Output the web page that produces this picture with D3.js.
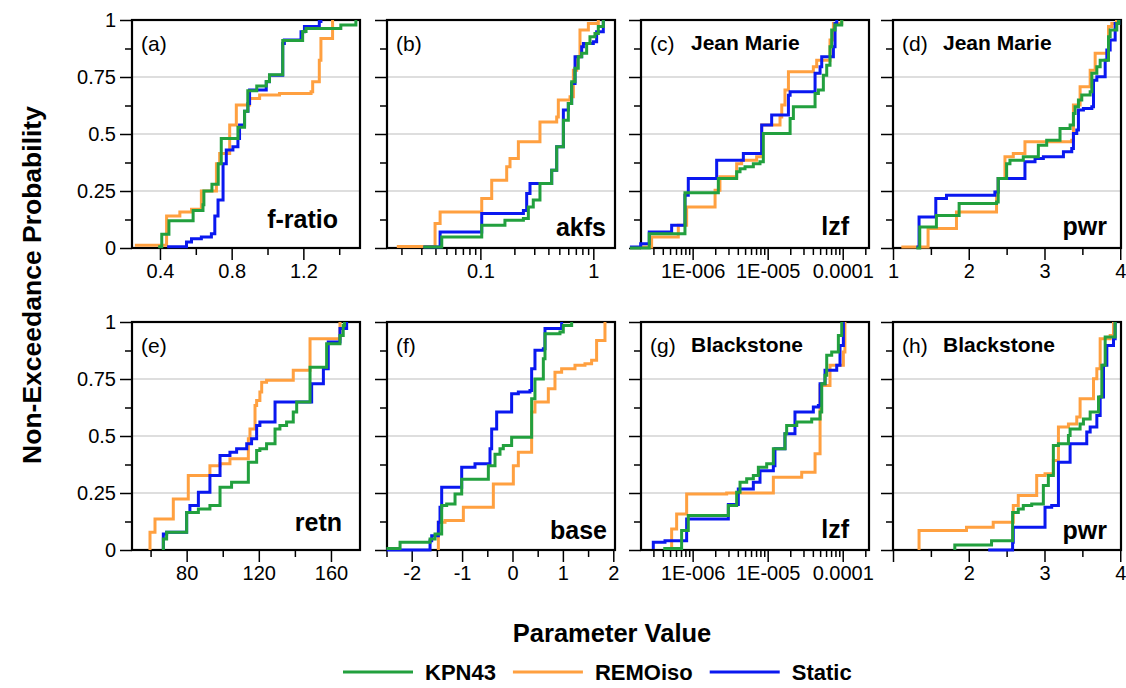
<!DOCTYPE html>
<html>
<head>
<meta charset="utf-8">
<script src="https://cdnjs.cloudflare.com/ajax/libs/d3/7.8.5/d3.min.js"></script>
<style>
  body { margin: 0; background: #fff; }
  svg { font-family: "Liberation Sans", Arial, sans-serif; }
</style>
</head>
<body>
<div id="chart"></div>
<script>
// ---- data: step CDF corner points [parameter value, non-exceedance probability] ----

// (a) f-ratio
const fratioKPN43 = [[0.39,0.005],[0.41,0.06],[0.45,0.12],[0.585,0.165],[0.64,0.19],[0.645,0.25],[0.69,0.28],[0.725,0.37],[0.742,0.48],[0.835,0.53],[0.872,0.6],[0.89,0.69],[0.94,0.71],[0.993,0.73],[1.011,0.76],[1.085,0.91],[1.196,0.95],[1.215,0.963],[1.409,0.978],[1.493,1]];
const fratioREMOiso = [[0.26,0.012],[0.437,0.14],[0.511,0.158],[0.576,0.17],[0.631,0.25],[0.715,0.37],[0.733,0.414],[0.789,0.54],[0.826,0.627],[0.9,0.656],[0.956,0.671],[1.067,0.678],[1.243,0.685],[1.252,0.729],[1.289,0.824],[1.298,0.919],[1.363,1]];
const fratioStatic = [[0.44,0.005],[0.548,0.026],[0.576,0.041],[0.631,0.048],[0.687,0.063],[0.706,0.14],[0.724,0.21],[0.752,0.37],[0.77,0.43],[0.807,0.444],[0.835,0.48],[0.844,0.54],[0.872,0.6],[0.891,0.634],[0.9,0.693],[0.993,0.729],[1.011,0.758],[1.085,0.897],[1.094,0.912],[1.187,0.949],[1.206,0.971],[1.289,0.993],[1.298,1]];

// (b) akfs
const akfsKPN43 = [[0.0313,0.004],[0.0455,0.048],[0.1028,0.1],[0.165,0.122],[0.2404,0.129],[0.266,0.18],[0.294,0.21],[0.337,0.283],[0.428,0.341],[0.474,0.444],[0.543,0.56],[0.601,0.634],[0.643,0.729],[0.689,0.788],[0.736,0.839],[0.789,0.854],[0.873,0.897],[0.934,0.927],[1.034,0.941],[1.107,0.971],[1.226,1]];
const akfsREMOiso = [[0.0182,0.007],[0.0397,0.107],[0.044,0.158],[0.1028,0.217],[0.126,0.297],[0.171,0.356],[0.183,0.392],[0.217,0.466],[0.337,0.553],[0.474,0.575],[0.49,0.649],[0.622,0.663],[0.666,0.78],[0.713,0.839],[0.762,0.956],[0.904,0.985],[1.107,1]];
const akfsStatic = [[0.0313,0.004],[0.044,0.07],[0.1028,0.151],[0.2404,0.165],[0.257,0.239],[0.275,0.283],[0.428,0.341],[0.474,0.444],[0.543,0.605],[0.601,0.634],[0.643,0.722],[0.689,0.839],[0.789,0.883],[0.817,0.897],[1.0,0.905],[1.07,0.949],[1.226,1]];

// (c) lzf, Jean Marie
const lzfJMKPN43 = [[1.46e-7,0],[2.64e-7,0.063],[7.9e-7,0.242],[2.2e-6,0.305],[3.86e-6,0.334],[4.28e-6,0.348],[4.99e-6,0.356],[6.44e-6,0.37],[7.9e-6,0.378],[8.75e-6,0.502],[1.99e-5,0.568],[2.2e-5,0.619],[4.28e-5,0.678],[4.74e-5,0.693],[5.52e-5,0.758],[6.12e-5,0.802],[6.77e-5,0.883],[7.13e-5,0.956],[7.9e-5,0.978],[9.7e-5,1]];
const lzfJMREMOiso = [[1.99e-7,0.004],[2.84e-7,0.048],[6.44e-7,0.1],[8.32e-7,0.18],[1.99e-6,0.253],[2.31e-6,0.312],[3.86e-6,0.37],[4.5e-6,0.385],[7.13e-6,0.4],[8.32e-6,0.539],[1.46e-5,0.575],[1.54e-5,0.627],[1.7e-5,0.693],[1.89e-5,0.773],[4.06e-5,0.795],[4.5e-5,0.824],[6.77e-5,0.912],[7.51e-5,0.985],[9.7e-5,1]];
const lzfJMStatic = [[1.46e-7,0.004],[2.03e-7,0.019],[2.64e-7,0.07],[5.25e-7,0.1],[7.9e-7,0.231],[8.75e-7,0.305],[2.09e-6,0.385],[4.74e-6,0.414],[8.32e-6,0.539],[1.13e-5,0.583],[1.89e-5,0.67],[1.99e-5,0.685],[4.28e-5,0.766],[4.99e-5,0.795],[5.25e-5,0.839],[7.51e-5,0.883],[7.9e-5,0.985],[8.32e-5,1]];

// (d) pwr, Jean Marie
const pwrJMKPN43 = [[1.309,0],[1.353,0.092],[1.573,0.143],[1.873,0.195],[2.367,0.202],[2.389,0.305],[2.5,0.37],[2.544,0.385],[2.72,0.4],[2.919,0.451],[3.029,0.473],[3.205,0.524],[3.338,0.539],[3.382,0.59],[3.404,0.619],[3.448,0.649],[3.492,0.671],[3.603,0.685],[3.625,0.766],[3.691,0.795],[3.735,0.824],[3.845,0.927],[3.867,0.956],[3.955,0.985],[3.98,1]];
const pwrJMREMOiso = [[1.11,0.004],[1.463,0.085],[1.838,0.158],[2.367,0.246],[2.389,0.305],[2.478,0.4],[2.588,0.414],[2.742,0.466],[3.36,0.473],[3.382,0.627],[3.47,0.707],[3.603,0.78],[3.669,0.854],[3.845,0.971],[3.889,0.985],[3.95,1]];
const pwrJMStatic = [[1.309,0.004],[1.344,0.136],[1.565,0.217],[1.706,0.231],[2.345,0.246],[2.389,0.305],[2.742,0.378],[2.875,0.392],[2.985,0.4],[3.25,0.422],[3.36,0.436],[3.382,0.502],[3.426,0.517],[3.448,0.605],[3.514,0.612],[3.625,0.619],[3.647,0.736],[3.691,0.751],[3.801,0.824],[3.823,0.868],[3.867,0.912],[3.933,0.985],[3.98,1]];

// (e) retn
const retnKPN43 = [[67.07,0],[67.07,0.048],[68.9,0.078],[80,0.165],[86.5,0.18],[92.9,0.195],[98.5,0.275],[104.9,0.297],[114.2,0.385],[118.8,0.436],[120.6,0.444],[124.3,0.466],[129,0.531],[131.7,0.546],[135.4,0.561],[139.1,0.605],[141,0.649],[148.4,0.802],[157.6,0.905],[165,0.941],[166.8,0.985],[167.5,1]];
const retnREMOiso = [[59.68,0],[59.68,0.078],[62.45,0.136],[72.6,0.224],[80.9,0.327],[92.9,0.37],[98.5,0.378],[104,0.4],[114.2,0.488],[115.1,0.531],[117.9,0.634],[118.8,0.656],[120.6,0.693],[121.6,0.736],[124.3,0.744],[139.1,0.788],[148.4,0.927],[165,1]];
const retnStatic = [[67.07,0.004],[67.07,0.07],[68.9,0.078],[80,0.165],[81.8,0.195],[86.5,0.253],[92.9,0.327],[98.5,0.414],[104,0.429],[107.7,0.444],[113.3,0.466],[116,0.488],[118.8,0.546],[120.6,0.561],[129,0.649],[149.3,0.729],[155.8,0.795],[158.5,0.912],[165,0.971],[168.7,1]];

// (f) base
const baseKPN43 = [[-2.5,0.007],[-2.231,0.034],[-1.636,0.048],[-1.537,0.07],[-1.405,0.195],[-1.306,0.202],[-1.14,0.246],[-1.008,0.31],[-0.479,0.37],[-0.347,0.42],[-0.248,0.444],[-0.182,0.458],[-0.017,0.495],[0.38,0.663],[0.446,0.75],[0.612,0.839],[0.645,0.949],[0.942,0.956],[1.008,0.985],[1.174,1]];
const baseREMOiso = [[-1.471,0],[-1.471,0.122],[-1.339,0.129],[-0.975,0.187],[-0.38,0.29],[0.017,0.37],[0.116,0.429],[0.38,0.605],[0.446,0.649],[0.711,0.707],[0.843,0.78],[0.975,0.795],[1.24,0.81],[1.438,0.817],[1.57,0.832],[1.669,0.919],[1.835,1]];
const baseStatic = [[-2.496,0],[-1.636,0.041],[-1.603,0.063],[-1.471,0.122],[-1.438,0.187],[-1.405,0.275],[-1.008,0.363],[-0.744,0.378],[-0.446,0.444],[-0.413,0.531],[-0.314,0.605],[-0.017,0.685],[0.116,0.693],[0.347,0.7],[0.38,0.795],[0.446,0.876],[0.612,0.883],[0.645,0.971],[0.975,1]];

// (g) lzf, Blackstone
const lzfBSKPN43 = [[4.06e-7,0.007],[7.13e-7,0.085],[8.75e-7,0.151],[2.99e-6,0.195],[3.86e-6,0.253],[4.28e-6,0.297],[5.25e-6,0.312],[6.44e-6,0.327],[7.51e-6,0.363],[9.7e-6,0.378],[1.19e-5,0.444],[1.7e-5,0.51],[1.79e-5,0.546],[2.44e-5,0.561],[3.86e-5,0.575],[4.99e-5,0.605],[5.25e-5,0.729],[5.81e-5,0.766],[6.12e-5,0.854],[7.13e-5,0.868],[8.75e-5,0.941],[9.7e-5,1]];
const lzfBSREMOiso = [[5.25e-7,0],[5.25e-7,0.092],[6.12e-7,0.158],[8.32e-7,0.246],[2.84e-6,0.25],[1.19e-5,0.319],[2.84e-5,0.341],[4.28e-5,0.422],[4.99e-5,0.722],[6.77e-5,0.81],[1.02e-4,0.868],[1.07e-4,1]];
const lzfBSStatic = [[2.99e-7,0.004],[2.99e-7,0.034],[4.28e-7,0.041],[8.32e-7,0.136],[2.99e-6,0.2],[4.06e-6,0.268],[6.44e-6,0.297],[7.9e-6,0.348],[1.19e-5,0.37],[1.25e-5,0.444],[1.7e-5,0.51],[2.31e-5,0.605],[4.06e-5,0.627],[4.74e-5,0.634],[4.99e-5,0.729],[5.81e-5,0.788],[8.32e-5,0.81],[9.2e-5,0.897],[1.02e-4,1]];

// (h) pwr, Blackstone
const pwrBSKPN43 = [[1.816,0],[1.816,0.022],[2.301,0.041],[2.579,0.165],[2.654,0.18],[2.72,0.195],[2.831,0.202],[2.985,0.283],[3.051,0.327],[3.117,0.458],[3.184,0.466],[3.316,0.502],[3.338,0.531],[3.47,0.553],[3.514,0.575],[3.603,0.605],[3.713,0.671],[3.757,0.81],[3.801,0.934],[3.933,1]];
const pwrBSREMOiso = [[1.344,0],[1.344,0.085],[1.97,0.1],[2.323,0.122],[2.588,0.195],[2.654,0.239],[2.897,0.327],[3.007,0.334],[3.117,0.392],[3.184,0.539],[3.316,0.553],[3.426,0.583],[3.47,0.663],[3.647,0.751],[3.691,0.795],[3.735,0.927],[3.867,0.941],[3.911,1]];
const pwrBSStatic = [[2.257,0],[2.579,0.034],[2.588,0.1],[3.007,0.187],[3.095,0.195],[3.184,0.385],[3.338,0.466],[3.558,0.517],[3.603,0.539],[3.691,0.59],[3.735,0.671],[3.779,0.81],[3.823,0.897],[3.911,0.927],[3.933,1]];

// ---- panel descriptions ----
const seriesNames = ['KPN43', 'REMOiso', 'Static'];
const panelLetters = ['(a)', '(b)', '(c)', '(d)', '(e)', '(f)', '(g)', '(h)'];
const panelParams = ['f-ratio', 'akfs', 'lzf', 'pwr', 'retn', 'base', 'lzf', 'pwr'];
const panelSites = ['', '', 'Jean Marie', 'Jean Marie', '', '', 'Blackstone', 'Blackstone'];
const panelScaleType = ['linear', 'log', 'log', 'linear', 'linear', 'linear', 'log', 'linear'];
const panelDomains = [[0.244, 1.516], [0.0149, 1.556], [2.05e-7, 2.24e-4], [1, 4.01],
                      [49.7, 176.1], [-2.49, 2.034], [2.05e-7, 2.24e-4], [1, 4.01]];
const majorTicks = [[0.4, 0.8, 1.2], [0.1, 1], [1e-6, 1e-5, 1e-4], [1, 2, 3, 4],
                    [80, 120, 160], [-2, -1, 0, 1, 2], [1e-6, 1e-5, 1e-4], [1, 2, 3, 4]];
const tickLabels = [['0.4', '0.8', '1.2'], ['0.1', '1'], ['1E-006', '1E-005', '0.0001'], ['1', '2', '3', '4'],
                    ['80', '120', '160'], ['-2', '-1', '0', '1', '2'], ['1E-006', '1E-005', '0.0001'], ['', '2', '3', '4']];
const minorTicks = [[0.6, 1.0, 1.4], null, null, [1.5, 2.5, 3.5],
                    [60, 100, 140], [-2.5, -1.5, -0.5, 0.5, 1.5], null, [1.5, 2.5, 3.5]];
const probTicks = [0, 0.25, 0.5, 0.75, 1];
const probLabels = ['0', '0.25', '0.5', '0.75', '1'];
const probMinor = [0.125, 0.375, 0.625, 0.875];

const panelData = [
  {KPN43: fratioKPN43, REMOiso: fratioREMOiso, Static: fratioStatic},
  {KPN43: akfsKPN43, REMOiso: akfsREMOiso, Static: akfsStatic},
  {KPN43: lzfJMKPN43, REMOiso: lzfJMREMOiso, Static: lzfJMStatic},
  {KPN43: pwrJMKPN43, REMOiso: pwrJMREMOiso, Static: pwrJMStatic},
  {KPN43: retnKPN43, REMOiso: retnREMOiso, Static: retnStatic},
  {KPN43: baseKPN43, REMOiso: baseREMOiso, Static: baseStatic},
  {KPN43: lzfBSKPN43, REMOiso: lzfBSREMOiso, Static: lzfBSStatic},
  {KPN43: pwrBSKPN43, REMOiso: pwrBSREMOiso, Static: pwrBSStatic}
];

// ---- layout / style ----
const W = 1126, H = 688;
const colLeft = [132, 387, 641, 893];
const rowTop = [20, 322];
const pw = 228, ph = 228;
const colors = {KPN43: '#22a03e', REMOiso: '#ffa040', Static: '#0a18f0'};
const drawOrder = ['REMOiso', 'Static', 'KPN43'];
// right / bottom inset of the parameter name
const paramInset = [[22, 20], [9, 12], [20, 13], [14, 13], [18, 19], [8, 11], [20, 12], [14, 11]];

const svg = d3.select('#chart')
              .append('svg')
              .attr('width', W)
              .attr('height', H);

function addText(parent, x, y, str, size, weight, anchor) {
  return parent.append('text')
               .attr('x', x)
               .attr('y', y)
               .attr('text-anchor', anchor || 'start')
               .style('font-size', size + 'px')
               .style('font-weight', weight || 'normal')
               .style('fill', '#000')
               .text(str);
}

function styleAxis(g, labelSize) {
  g.select('.domain').remove();
  g.attr('font-family', null).attr('font-size', null);
  g.selectAll('.tick line').attr('stroke', '#000').attr('stroke-width', 1.5);
  g.selectAll('.tick text')
   .style('font-size', labelSize + 'px')
   .style('fill', '#000');
}

panelData.forEach((series, i) => {
  const col = i % 4, row = Math.floor(i / 4);
  const g = svg.append('g')
               .attr('transform', `translate(${colLeft[col]},${rowTop[row]})`);

  const x = (panelScaleType[i] === 'log' ? d3.scaleLog() : d3.scaleLinear())
              .domain(panelDomains[i])
              .range([0, pw]);
  const y = d3.scaleLinear().domain([0, 1]).range([ph, 0]);

  // grid lines
  g.selectAll('line.grid')
   .data([0.25, 0.5, 0.75])
   .enter()
   .append('line')
   .attr('class', 'grid')
   .attr('x1', 0).attr('x2', pw)
   .attr('y1', d => y(d)).attr('y2', d => y(d))
   .attr('stroke', '#bdbdbd')
   .attr('stroke-width', 1);

  // x axis: major + minor ticks
  const labelOf = new Map(majorTicks[i].map((v, j) => [v, tickLabels[i][j]]));
  let minors = minorTicks[i];
  if (!minors) {
    minors = x.ticks().filter(t => !majorTicks[i].some(m => Math.abs(m - t) / m < 1e-6));
  }
  g.append('g')
   .attr('transform', `translate(0,${ph})`)
   .call(d3.axisBottom(x).tickValues(minors).tickSize(7).tickFormat(''))
   .call(a => styleAxis(a, 20));
  g.append('g')
   .attr('transform', `translate(0,${ph})`)
   .call(d3.axisBottom(x).tickValues(majorTicks[i]).tickSize(12).tickPadding(4)
                        .tickFormat(d => labelOf.get(d)))
   .call(a => styleAxis(a, 20));

  // y axis
  const labelled = col === 0;
  const yLabelOf = new Map(probTicks.map((v, j) => [v, probLabels[j]]));
  g.append('g')
   .call(d3.axisLeft(y).tickValues(probMinor).tickSize(7).tickFormat(''))
   .call(a => styleAxis(a, 20));
  g.append('g')
   .call(d3.axisLeft(y).tickValues(probTicks).tickSize(12).tickPadding(4)
                       .tickFormat(d => labelled ? yLabelOf.get(d) : ''))
   .call(a => styleAxis(a, 20));

  // frame
  g.append('rect')
   .attr('width', pw)
   .attr('height', ph)
   .attr('fill', 'none')
   .attr('stroke', '#000')
   .attr('stroke-width', 2.2);

  // CDF step lines
  const line = d3.line()
                 .x(d => x(d[0]))
                 .y(d => y(d[1]))
                 .curve(d3.curveStepAfter);
  drawOrder.forEach(name => {
    g.append('path')
     .datum(series[name])
     .attr('d', line)
     .attr('fill', 'none')
     .attr('stroke', colors[name])
     .attr('stroke-width', 3)
     .attr('stroke-linejoin', 'miter');
  });

  // annotations
  addText(g, 9, 31, panelLetters[i], 21, 'normal', 'start');
  if (panelSites[i]) addText(g, 50, 30, panelSites[i], 21, 'bold', 'start');
  addText(g, pw - paramInset[i][0], ph - paramInset[i][1], panelParams[i], 25, 'bold', 'end');
});

// axis titles
svg.append('text')
   .attr('transform', 'translate(41,285) rotate(-90)')
   .attr('text-anchor', 'middle')
   .style('font-size', '26.5px')
   .style('font-weight', 'bold')
   .text('Non-Exceedance Probability');

addText(svg, 612, 642, 'Parameter Value', 25.5, 'bold', 'middle');

// legend
let lx = 343;
seriesNames.forEach(name => {
  svg.append('line')
     .attr('x1', lx).attr('x2', lx + 70)
     .attr('y1', 672).attr('y2', 672)
     .attr('stroke', colors[name])
     .attr('stroke-width', 3);
  const t = addText(svg, lx + 82, 680, name, 22, 'bold', 'start');
  lx += 82 + t.node().getComputedTextLength() + 17;
});
</script>
</body>
</html>
